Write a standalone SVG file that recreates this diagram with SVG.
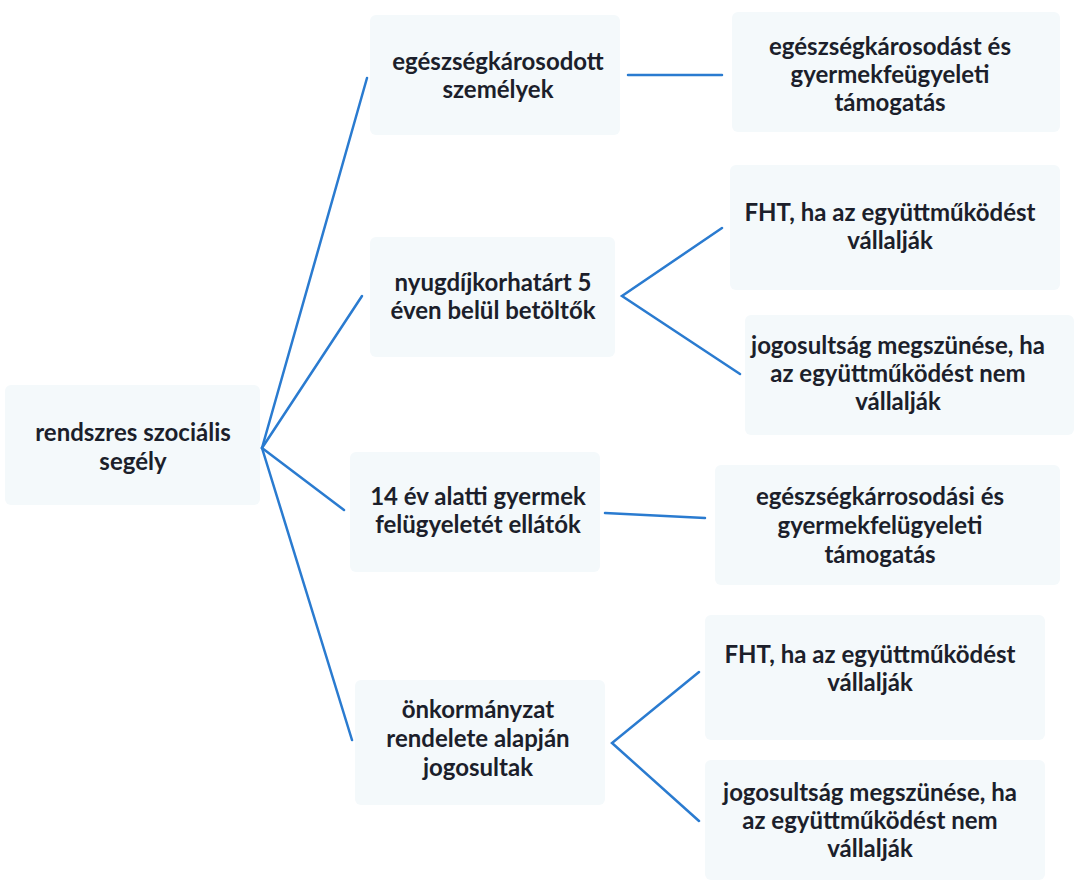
<svg xmlns="http://www.w3.org/2000/svg" width="1074" height="880" viewBox="0 0 1074 880">
<style>
.box{fill:#f4f9fb;}
.t{font-family:Lato,"Noto Sans",sans-serif;font-weight:bold;font-size:24px;fill:#1c1f2b;text-anchor:middle;}
.c{stroke:#2a7bd0;stroke-width:2.5;fill:none;stroke-linecap:round;}
</style>
<rect width="1074" height="880" fill="#ffffff"/>
<g id="connectors">
<line class="c" x1="262" y1="448" x2="367" y2="78"/>
<line class="c" x1="262" y1="448" x2="362" y2="296"/>
<line class="c" x1="262" y1="448" x2="344" y2="510"/>
<line class="c" x1="262" y1="448" x2="352" y2="740"/>
<line class="c" x1="628" y1="75" x2="722" y2="75"/>
<polyline class="c" points="722,228 622,296 740,374"/>
<line class="c" x1="605" y1="513" x2="705" y2="518"/>
<polyline class="c" points="699,672 612,743 699,821"/>
</g>
<g id="root">
<rect class="box" x="5" y="385" width="255" height="120" rx="6"/>
<text class="t" x="133" y="441">rendszres szociális</text>
<text class="t" x="133" y="470">segély</text>
</g>
<g id="n1">
<rect class="box" x="370" y="15" width="250" height="120" rx="6"/>
<text class="t" x="498" y="70">egészségkárosodott</text>
<text class="t" x="498" y="98">személyek</text>
</g>
<g id="n2">
<rect class="box" x="370" y="237" width="245" height="120" rx="6"/>
<text class="t" x="493" y="291">nyugdíjkorhatárt 5</text>
<text class="t" x="493" y="319">éven belül betöltők</text>
</g>
<g id="n3">
<rect class="box" x="350" y="452" width="250" height="120" rx="6"/>
<text class="t" x="478" y="505">14 év alatti gyermek</text>
<text class="t" x="478" y="533">felügyeletét ellátók</text>
</g>
<g id="n4">
<rect class="box" x="355" y="680" width="250" height="125" rx="6"/>
<text class="t" x="478" y="718">önkormányzat</text>
<text class="t" x="478" y="747">rendelete alapján</text>
<text class="t" x="478" y="776">jogosultak</text>
</g>
<g id="r1">
<rect class="box" x="732" y="12" width="328" height="120" rx="6"/>
<text class="t" x="890" y="55">egészségkárosodást és</text>
<text class="t" x="890" y="83">gyermekfeügyeleti</text>
<text class="t" x="890" y="111">támogatás</text>
</g>
<g id="r2">
<rect class="box" x="730" y="165" width="330" height="125" rx="6"/>
<text class="t" x="890" y="221">FHT, ha az együttműködést</text>
<text class="t" x="890" y="249">vállalják</text>
</g>
<g id="r3">
<rect class="box" x="745" y="315" width="329" height="120" rx="6"/>
<text class="t" x="898" y="354">jogosultság megszünése, ha</text>
<text class="t" x="898" y="382">az együttműködést nem</text>
<text class="t" x="898" y="410">vállalják</text>
</g>
<g id="r4">
<rect class="box" x="715" y="465" width="345" height="120" rx="6"/>
<text class="t" x="880" y="505">egészségkárrosodási és</text>
<text class="t" x="880" y="534">gyermekfelügyeleti</text>
<text class="t" x="880" y="563">támogatás</text>
</g>
<g id="r5">
<rect class="box" x="705" y="615" width="340" height="125" rx="6"/>
<text class="t" x="870" y="663">FHT, ha az együttműködést</text>
<text class="t" x="870" y="691">vállalják</text>
</g>
<g id="r6">
<rect class="box" x="705" y="760" width="340" height="120" rx="6"/>
<text class="t" x="870" y="801">jogosultság megszünése, ha</text>
<text class="t" x="870" y="829">az együttműködést nem</text>
<text class="t" x="870" y="857">vállalják</text>
</g>
</svg>
